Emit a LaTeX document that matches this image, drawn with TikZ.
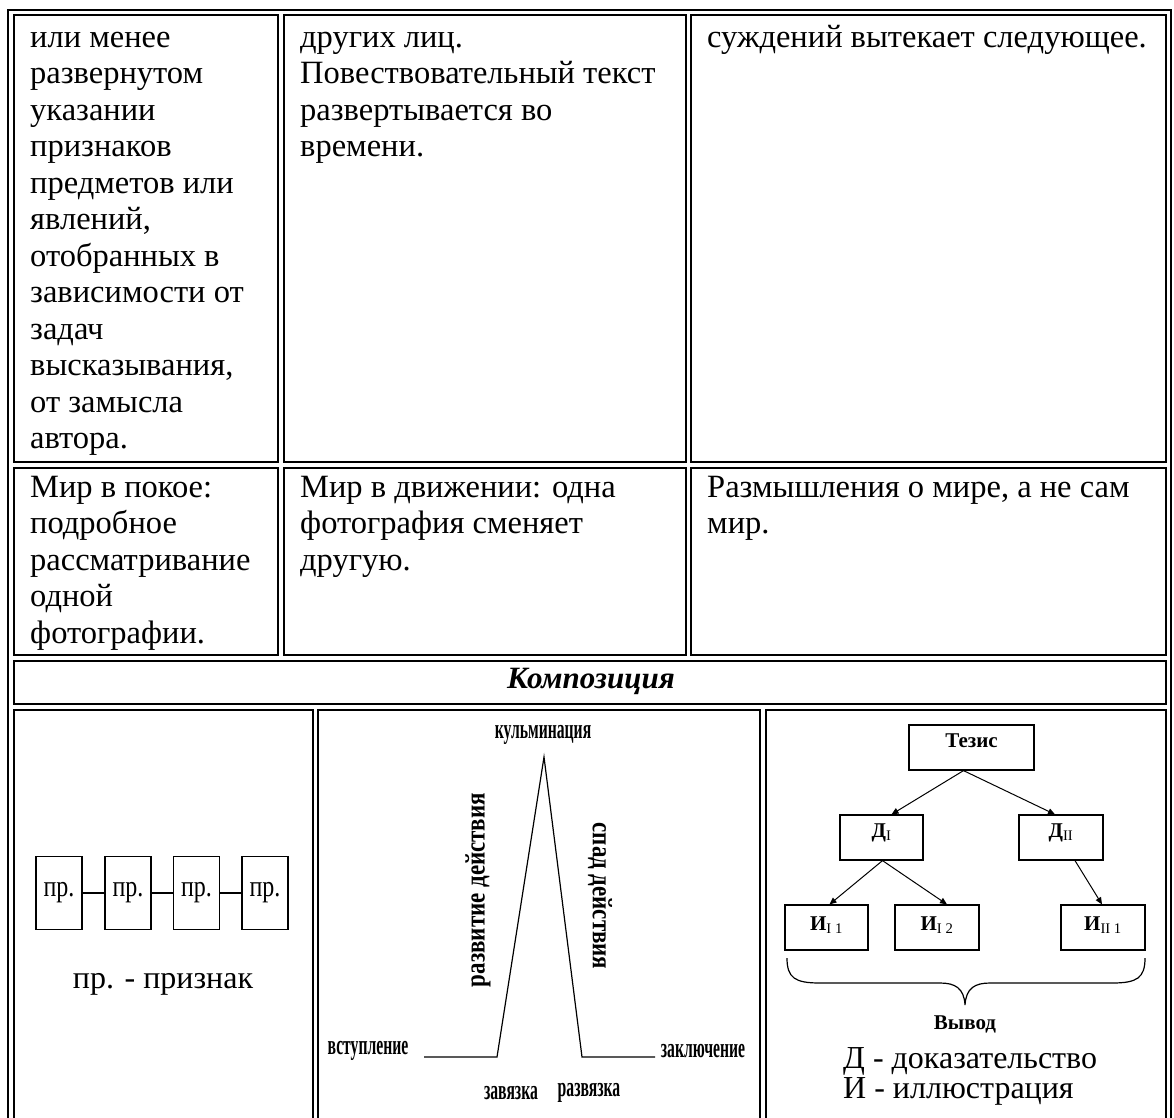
\documentclass[tikz,border=0pt]{standalone}
\usepackage{fontspec}
\setmainfont{Liberation Serif}
\usepackage{graphicx}
\usetikzlibrary{arrows.meta}
\newcommand{\narrowtext}[2][0.56]{\scalebox{#1}[1]{#2}}
\tikzset{
  cellline/.style={line width=2pt},
  thinline/.style={line width=1.2pt},
  bodytext/.style={font=\fontsize{32.5}{36.5}\selectfont, anchor=base west, inner sep=0pt},
  labeltext/.style={font=\fontsize{28}{30}\selectfont\bfseries, inner sep=0pt},
  prbox/.style={draw, thinline, minimum width=46pt, minimum height=73pt, inner sep=0pt, font=\fontsize{30}{32}\selectfont},
  schemebox/.style={draw, thinline, minimum height=45pt, inner sep=0pt, text height=14pt, text depth=14pt, font=\fontsize{21}{24}\selectfont\bfseries},
  arr/.style={-{Triangle[length=7pt,width=6pt]}, line width=1pt}
}

\begin{document}
\begin{tikzpicture}[x=1pt, y=-1pt]
		%%%%% START %%%%%
		\useasboundingbox (0,0) rectangle (1174,1117);

		% outer frame
		\draw[cellline] (8,1130) -- (8,10) -- (1171,10) -- (1171,1130);

		% cells
		\draw[cellline] (14,15) rectangle (278,462);
		\draw[cellline] (284,15) rectangle (686,462);
		\draw[cellline] (691,15) rectangle (1166,462);
		\draw[cellline] (14,468) rectangle (278,655);
		\draw[cellline] (284,468) rectangle (686,655);
		\draw[cellline] (691,468) rectangle (1166,655);
		\draw[cellline] (14,661) rectangle (1166,704);
		\draw[cellline] (14,710) rectangle (313,1130);
		\draw[cellline] (318,710) rectangle (760,1130);
		\draw[cellline] (766,710) rectangle (1166,1130);

		% text of the first rows
		\foreach \line [count=\i] in {или менее, развернутом, указании, признаков, предметов или, {явлений,}, отобранных в, зависимости от, задач, {высказывания,}, от замысла, автора.}
			\node[bodytext] (opis\i) at (30,{47+36.5*(\i-1)}) {\line};
		\foreach \line [count=\i] in {других лиц., Повествовательный текст, развертывается во, времени.}
			\node[bodytext] (povest\i) at (300,{47+36.5*(\i-1)}) {\line};
		\node[bodytext] (rassuzh1) at (707,47) {суждений вытекает следующее.};

		\foreach \line [count=\i] in {{Мир в покое:}, подробное, рассматривание, одной, фотографии.}
			\node[bodytext] (opismir\i) at (30,{497+36.5*(\i-1)}) {\line};
		\foreach \line [count=\i] in {{Мир в движении: одна}, фотография сменяет, другую.}
			\node[bodytext] (povestmir\i) at (300,{497+36.5*(\i-1)}) {\line};
		\foreach \line [count=\i] in {{Размышления о мире, а не сам}, мир.}
			\node[bodytext] (rassuzhmir\i) at (707,{497+36.5*(\i-1)}) {\line};

		\node[font=\fontsize{31}{34}\selectfont\bfseries\itshape, anchor=base] (komp) at (591,688) {Композиция};

		% description: chain of features
		\foreach \x [count=\k] in {59,128,196.5,265}
			\node[prbox] (pr\k) at (\x,893) {\narrowtext[0.8]{пр.}};
		\foreach \a/\b in {1/2,2/3,3/4}
			\draw[thinline] (pr\a) -- (pr\b);
		\node[bodytext, font=\fontsize{32}{36}\selectfont, anchor=base] (prlegend) at (163,988) {пр. - признак};

		% narration: plot line
		\coordinate (vst) at (424,1057);
		\coordinate (zav) at (497,1057);
		\coordinate (kul) at (544,757);
		\coordinate (raz) at (582,1057);
		\coordinate (zak) at (655,1057);
		\draw[thinline] (vst) -- (zav) -- (kul) -- (raz) -- (zak);

		\node[labeltext] (kullabel) at (543,735) {\narrowtext{кульминация}};
		\node[labeltext] (vstlabel) at (368,1051) {\narrowtext{вступление}};
		\node[labeltext] (zaklabel) at (703,1051) {\narrowtext{заключение}};
		\node[labeltext] (zavlabel) at (511,1093) {\narrowtext{завязка}};
		\node[labeltext] (razlabel) at (589,1093) {\narrowtext{развязка}};
		\node[labeltext, rotate=90] (rostlabel) at (478,890) {\narrowtext[0.82]{развитие действия}};
		\node[labeltext, rotate=-90] (spadlabel) at (600,896) {\narrowtext[0.82]{спад действия}};

		% reasoning: thesis tree
		\node[schemebox, minimum width=125pt] (tez) at (971.5,747.5) {Тезис};
		\node[schemebox, minimum width=83pt] (dA) at (881.5,837.5) {Д\textsubscript{\mdseries I}};
		\node[schemebox, minimum width=84pt] (dB) at (1061,837.5) {Д\textsubscript{\mdseries II}};
		\node[schemebox, minimum width=83pt, text depth=8pt] (iA) at (826.5,927.5) {И\textsubscript{\mdseries I 1}};
		\node[schemebox, minimum width=84pt, text depth=8pt] (iB) at (937,927.5) {И\textsubscript{\mdseries I 2}};
		\node[schemebox, minimum width=84pt, text depth=8pt] (iC) at (1103,927.5) {И\textsubscript{\mdseries II 1}};

		\draw[arr] ([xshift=-8pt]tez.south) -- ([xshift=10pt]dA.north);
		\draw[arr] ([xshift=-8pt]tez.south) -- ([xshift=-6pt]dB.north);
		\draw[arr] ([xshift=1pt]dA.south) -- ([xshift=3pt]iA.north);
		\draw[arr] ([xshift=1pt]dA.south) -- ([xshift=10pt]iB.north);
		\draw[arr] ([xshift=14pt]dB.south) -- ([xshift=-1pt]iC.north);

		\draw[thinline] (787,958) .. controls (787,978) and (795,983) .. (820,983) -- (940,983)
			.. controls (955,983) and (964,988) .. (965,1005)
			.. controls (966,988) and (975,983) .. (990,983) -- (1112,983)
			.. controls (1137,983) and (1145,978) .. (1145,958);
		\node[font=\fontsize{21}{24}\selectfont\bfseries, anchor=base] (vyvod) at (965,1029) {Вывод};

		\node[bodytext, font=\fontsize{32}{36}\selectfont] (legD) at (843,1068) {Д - доказательство};
		\node[bodytext, font=\fontsize{32}{36}\selectfont] (legI) at (843,1098) {И - иллюстрация};
		%%%%% END %%%%%
\end{tikzpicture}
\end{document}
